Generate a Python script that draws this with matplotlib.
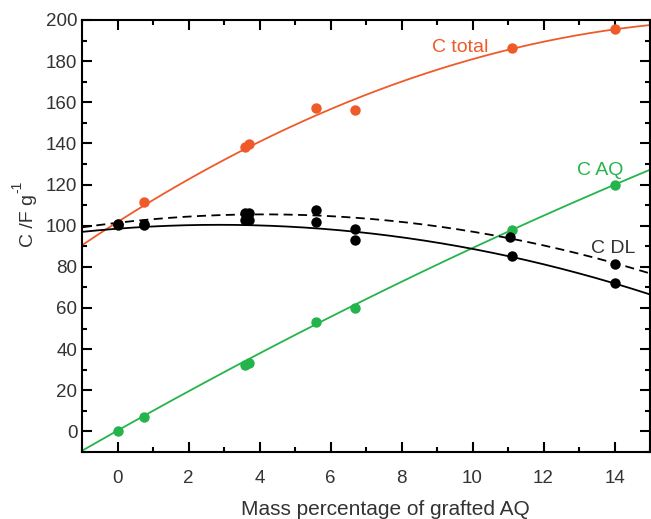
import numpy as np
import matplotlib
matplotlib.use("Agg")
import matplotlib.pyplot as plt
from matplotlib.ticker import MultipleLocator

# datos
x_pts = [0, 0.75, 3.58, 3.7, 5.6, 6.7, 11.1, 14.0]
c_total = [101, 111.5, 138.5, 139.6, 157.4, 156.3, 186.2, 195.4]
c_aq = [0, 7.1, 32.3, 33.1, 53.1, 60.1, 98.1, 119.9]

x_dl_a = [0, 0.75, 3.6, 3.7, 5.6, 6.7, 11.05, 14.0]
c_dl_a = [101, 101, 106.2, 106.2, 107.4, 98.6, 94.5, 81.6]   # curva discontinua
x_dl_b = [0, 0.75, 3.6, 3.7, 5.6, 6.7, 11.1, 14.0]
c_dl_b = [100.5, 100.5, 102.6, 102.6, 101.8, 93.2, 85.5, 72.2]  # curva continua

fit_total = [-0.3065, 10.98, 101.8]
fit_aq = [-0.0843, 9.718, 0.40]
fit_dl_a = [-0.242, 1.988, 101.43]
fit_dl_b = [-0.2298, 1.317, 98.55]

ORANGE = "#F05A28"
GREEN = "#25B44B"
TXT = "#333333"

plt.rcParams["font.family"] = ["Liberation Sans", "DejaVu Sans"]

fig = plt.figure(figsize=(6.51, 5.19), dpi=100)
ax = fig.add_axes([82 / 651, 1 - 452 / 519, (650 - 82) / 651, (452 - 20) / 519])

xx = np.linspace(-1, 15, 300)

ax.plot(xx, np.polyval(fit_total, xx), color=ORANGE, lw=1.3)
ax.plot(xx, np.polyval(fit_aq, xx), color=GREEN, lw=1.3)
ax.plot(xx, np.polyval(fit_dl_a, xx), color="black", lw=1.3, ls=(0, (5, 3)))
ax.plot(xx, np.polyval(fit_dl_b, xx), color="black", lw=1.3)

ms = 7.5
ax.plot(x_pts, c_total, "o", color=ORANGE, ms=ms, mec="none")
ax.plot(x_pts, c_aq, "o", color=GREEN, ms=ms, mec="none")
ax.plot(x_dl_a, c_dl_a, "o", color="black", ms=ms, mec="none")
ax.plot(x_dl_b, c_dl_b, "o", color="black", ms=ms, mec="none")

ax.text(9.66, 184.5, "C total", color=ORANGE, fontsize=14, ha="center", va="baseline")
ax.text(13.59, 124.8, "C AQ", color=GREEN, fontsize=14, ha="center", va="baseline")
ax.text(13.97, 86.8, "C DL", color=TXT, fontsize=14, ha="center", va="baseline")

ax.set_xlim(-1, 15)
ax.set_ylim(-10, 200)
ax.xaxis.set_major_locator(MultipleLocator(2))
ax.xaxis.set_minor_locator(MultipleLocator(1))
ax.yaxis.set_major_locator(MultipleLocator(20))
ax.yaxis.set_minor_locator(MultipleLocator(10))

for s in ax.spines.values():
    s.set_linewidth(1.5)
ax.tick_params(which="both", direction="in", top=True, right=True, width=1.5, colors="black",
               labelcolor=TXT, labelsize=13.5)
ax.tick_params(which="major", length=7)
ax.tick_params(which="minor", length=3.5)
ax.tick_params(axis="x", pad=13)
ax.tick_params(axis="y", pad=3.4)

fig.text(385 / 651, 1 - 515 / 519, "Mass percentage of grafted AQ", color=TXT, fontsize=15,
         ha="center", va="baseline")
# etiqueta del eje y con superindice "-1" (guion normal)
fig.text(33 / 651, 1 - 247 / 519, "C /F g", color=TXT, fontsize=14, rotation=90,
         rotation_mode="anchor", ha="left", va="baseline")
fig.text(21 / 651, 1 - 193 / 519, "-1", color=TXT, fontsize=10, rotation=90,
         rotation_mode="anchor", ha="left", va="baseline")

fig.savefig("out.png", dpi=100)
